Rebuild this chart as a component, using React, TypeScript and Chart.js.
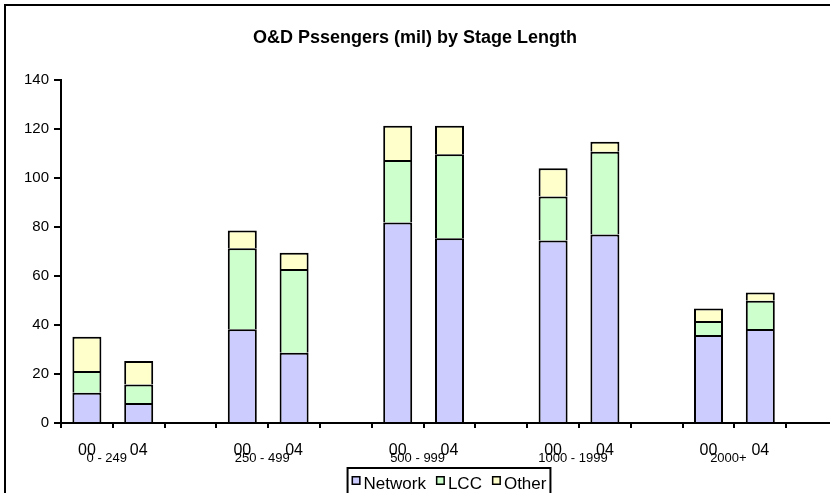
import { useEffect, useRef } from 'react';
import { Chart, registerables } from 'chart.js';

Chart.register(...registerables);

// Year labels per slot; empty slots separate the stage-length groups
const categories = ['00', '04', '', '00', '04', '', '00', '04', '', '00', '04', '', '00', '04', ''];
const stageGroups = ['0 - 249', '250 - 499', '500 - 999', '1000 - 1999', '2000+'];

// O&D passengers (millions), stacked segments
const network = [12.3, 8.2, null, 38.3, 28.7, null, 81.8, 75.4, null, 74.5, 76.9, null, 35.9, 38.4, null];
const lcc = [8.9, 7.5, null, 33.0, 34.2, null, 25.5, 34.3, null, 18.0, 33.8, null, 5.7, 11.5, null];
const other = [14.0, 9.6, null, 7.3, 6.6, null, 14.0, 11.6, null, 11.5, 4.1, null, 5.1, 3.4, null];

const seriesNames = ['Network', 'LCC', 'Other'];
const seriesColors = ['#CCCCFF', '#CCFFCC', '#FFFFCC'];

const yMin = 0;
const yMax = 140;
const yStep = 20;

const titleText = 'O&D Pssengers (mil) by Stage Length';
const FONT = '"Liberation Sans", Arial, sans-serif';

const decorPlugin = {
  id: 'decor',
  afterDraw(chart: any) {
    const ctx = chart.ctx as CanvasRenderingContext2D;
    const xScale = chart.scales.x;
    ctx.save();

    // outer frame
    ctx.strokeStyle = '#000';
    ctx.lineWidth = 2;
    ctx.strokeRect(5, 5, 1000, 1000);

    // title
    ctx.fillStyle = '#000';
    ctx.font = `bold 18px ${FONT}`;
    ctx.textAlign = 'center';
    ctx.textBaseline = 'middle';
    ctx.fillText(titleText, 415, 38);

    // year labels under each bar
    ctx.font = `16px ${FONT}`;
    categories.forEach((c, i) => {
      if (!c) return;
      ctx.fillText(c, xScale.getPixelForValue(i), 451);
    });

    // stage-length group labels between each pair of bars
    ctx.font = `13px ${FONT}`;
    stageGroups.forEach((g, gi) => {
      const a = xScale.getPixelForValue(gi * 3);
      const b = xScale.getPixelForValue(gi * 3 + 1);
      ctx.fillText(g, (a + b) / 2 - 6, 458);
    });

    // legend
    ctx.font = `17px ${FONT}`;
    const marker = 9;
    const gapAfterMarker = 3;
    const gapBetween = 10;
    const padX = 4;
    const widths = seriesNames.map((n) => ctx.measureText(n).width);
    let total = padX * 2;
    widths.forEach((w, i) => {
      total += marker + gapAfterMarker + w + (i < widths.length - 1 ? gapBetween : 0);
    });
    const boxLeft = 449 - total / 2;
    const boxTop = 468;
    ctx.lineWidth = 2;
    ctx.strokeStyle = '#000';
    ctx.strokeRect(boxLeft, boxTop, total, 32);
    let x = boxLeft + padX;
    ctx.textAlign = 'left';
    ctx.textBaseline = 'alphabetic';
    seriesNames.forEach((n, i) => {
      ctx.fillStyle = seriesColors[i];
      ctx.fillRect(x, 476, marker, marker);
      ctx.lineWidth = 1.5;
      ctx.strokeStyle = '#000';
      ctx.strokeRect(x + 0.75, 476.75, marker - 1.5, marker - 1.5);
      ctx.fillStyle = '#000';
      ctx.fillText(n, x + marker + gapAfterMarker, 489);
      x += marker + gapAfterMarker + widths[i] + gapBetween;
    });

    ctx.restore();
  },
};

export default function App() {
  const canvasRef = useRef<HTMLCanvasElement | null>(null);

  useEffect(() => {
    if (!canvasRef.current) return;
    const datasets = [network, lcc, other].map((d, i) => ({
      label: seriesNames[i],
      data: d,
      backgroundColor: seriesColors[i],
      borderColor: '#000',
      borderWidth: 2,
      borderSkipped: 'start' as const,
      barPercentage: 0.56,
      categoryPercentage: 1,
    }));

    const chart = new Chart(canvasRef.current, {
      type: 'bar',
      data: { labels: categories, datasets },
      options: {
        animation: false,
        responsive: false,
        layout: { padding: { top: 80, left: 0, right: 12, bottom: 50 } },
        plugins: {
          legend: { display: false },
          title: { display: false },
          tooltip: { enabled: false },
        },
        scales: {
          x: {
            stacked: true,
            offset: true,
            grid: {
              offset: true,
              drawOnChartArea: false,
              drawTicks: true,
              tickLength: 5,
              color: '#000',
              lineWidth: 2,
            },
            border: { display: true, color: '#000', width: 2 },
            ticks: { display: false },
            afterFit: (s: any) => {
              s.height = 20;
            },
          },
          y: {
            stacked: true,
            min: yMin,
            max: yMax,
            grid: {
              drawOnChartArea: false,
              drawTicks: true,
              tickLength: 7,
              color: '#000',
              lineWidth: 2,
            },
            border: { display: true, color: '#000', width: 2 },
            ticks: {
              stepSize: yStep,
              color: '#000',
              padding: 5,
              font: { family: FONT, size: 15 },
            },
            afterFit: (s: any) => {
              s.width = 61;
            },
          },
        },
      },
      plugins: [decorPlugin],
    });
    return () => chart.destroy();
  }, []);

  return (
    <div
      style={{
        position: 'fixed',
        left: 0,
        top: 0,
        width: 830,
        height: 493,
        overflow: 'hidden',
        background: '#fff',
      }}
    >
      <canvas ref={canvasRef} width={850} height={493} style={{ display: 'block' }} />
    </div>
  );
}
